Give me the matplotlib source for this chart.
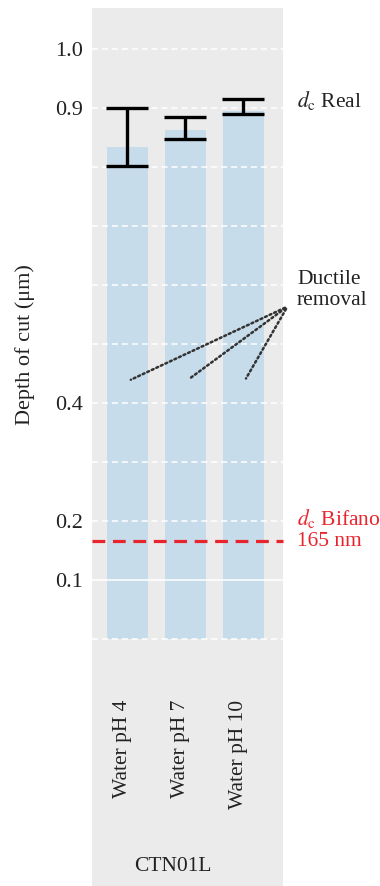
import matplotlib.pyplot as plt
import matplotlib

matplotlib.rcParams['font.family'] = ['Liberation Serif', 'DejaVu Serif']
matplotlib.rcParams['mathtext.fontset'] = 'stix'

# data
categories = ['Water pH 4', 'Water pH 7', 'Water pH 10']
depth = [0.834, 0.863, 0.894]
err_lo = [0.802, 0.847, 0.890]
err_hi = [0.899, 0.884, 0.914]
grid_vals = [0.0, 0.1, 0.2, 0.3, 0.4, 0.5, 0.6, 0.7, 0.8, 0.9, 1.0]
tick_vals = [0.1, 0.2, 0.3, 0.4, 0.5, 0.6, 0.7, 0.8, 0.9, 1.0]
tick_labels = ['0.1', '0.2', '', '0.4', '', '', '', '', '0.9', '1.0']
bifano = 0.165
ductile_y = 0.437

fig = plt.figure(figsize=(3.8, 8.86), dpi=100)
ax = fig.add_axes([0.2413, 0.0, 0.5034, 0.991])
ax.set_facecolor('#ebebeb')
for s in ax.spines.values():
    s.set_visible(False)

x = list(range(len(categories)))
ax.bar(x, depth, width=0.71, color='#c6dcea', zorder=2)

# grid lines (0.1 is drawn solid)
for g in grid_vals:
    ls = '-' if g == 0.1 else (0, (4, 2.5))
    ax.axhline(g, color='white', lw=1.1, ls=ls, zorder=3)

yerr = [[d - lo for d, lo in zip(depth, err_lo)], [hi - d for d, hi in zip(depth, err_hi)]]
ax.errorbar(x, depth, yerr=yerr, fmt='none', ecolor='black', elinewidth=2.4,
            capsize=14.8, capthick=2.4, zorder=4)

ax.axhline(bifano, color='#e8242c', lw=2.3, ls=(0, (4, 2.4)), zorder=5, clip_on=False)

ax.set_xlim(-0.61, 2.68)
ax.set_ylim(-0.419, 1.069)
ax.set_xticks([])
ax.set_yticks(tick_vals)
ax.set_yticklabels(tick_labels, fontsize=16)
ax.tick_params(axis='y', length=0, pad=6.5, colors='#222222')

for i, lab in enumerate(categories):
    ax.text(i - 0.08, -0.103, lab, rotation=90, ha='center', va='top',
            fontsize=15.5, color='#222222')
ax.text(0.79, -0.386, 'CTN01L', ha='center', va='center', fontsize=15.5, color='#222222')

# dotted pointers for "Ductile removal"
for i in x:
    ax.annotate('', xy=(i + 0.02, ductile_y), xytext=(2.757, 0.563),
                arrowprops=dict(arrowstyle='-', ls=(0, (0.8, 1.2)), color='#333333', lw=1.8),
                annotation_clip=False, zorder=6)

fig.text(297 / 380, 1 - 101 / 886, r'$d_\mathrm{c}$ Real', ha='left', va='center',
         fontsize=15.5, color='#222222')
fig.text(297 / 380, 1 - 290 / 886, 'Ductile\nremoval', ha='left', va='center',
         fontsize=15.5, color='#222222', linespacing=1.1)
fig.text(297 / 380, 1 - 529 / 886, r'$d_\mathrm{c}$ Bifano' + '\n165 nm', ha='left', va='center',
         fontsize=15.5, color='#e8242c', linespacing=1.1)
fig.text(25 / 380, 1 - 345 / 886, 'Depth of cut (μm)', rotation=90, ha='center', va='center',
         fontsize=16, color='#222222')

fig.savefig('out.png', dpi=100)
